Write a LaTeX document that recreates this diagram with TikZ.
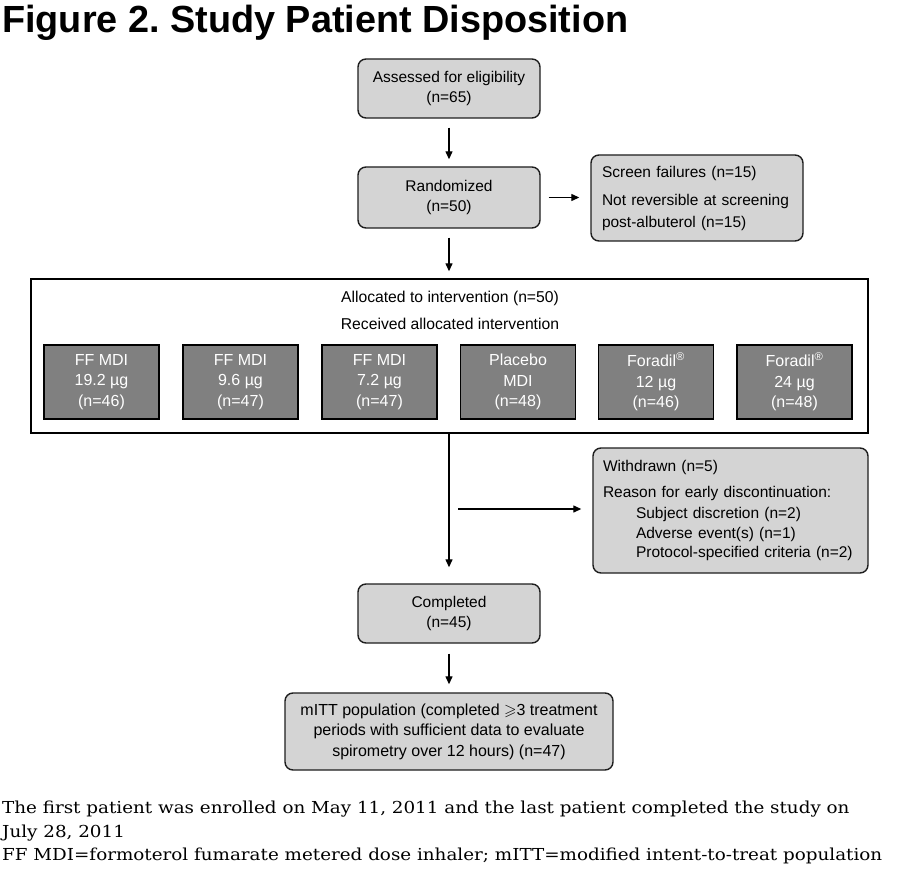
\documentclass[tikz,border=0pt]{standalone}
\usepackage{fontspec}
\usepackage{amssymb}
\usepackage{graphicx}
\setmainfont{Liberation Sans}
\newfontfamily\footfont{DejaVu Serif}
\usetikzlibrary{arrows.meta}
\definecolor{lightbox}{RGB}{212,212,212}
\definecolor{darkbox}{RGB}{128,128,128}
\definecolor{edgecol}{RGB}{30,30,30}
\newsavebox\footmeasure
\newsavebox\titlemeasure
\frenchspacing
\begin{document}%
\sbox\footmeasure{\footfont\fontsize{16.5}{18}\selectfont FF MDI=formoterol fumarate metered dose inhaler; mITT=modified intent-to-treat population}%
\pgfmathsetmacro\footx{880/\the\wd\footmeasure}%
\sbox\titlemeasure{\fontsize{10}{12}\selectfont\bfseries Figure 2. Study Patient Disposition}%
\pgfmathsetmacro\titlesize{10*626/\the\wd\titlemeasure}%
\begin{tikzpicture}[x=1pt,y=-1pt,
  lbox/.style={draw=edgecol, line width=1.4pt, fill=lightbox, rounded corners=8pt, inner sep=0pt, align=center, font=\fontsize{15.5}{20}\selectfont},
  dbox/.style={draw=black, line width=1.2pt, fill=darkbox, text=white, minimum width=115pt, minimum height=74pt, inner sep=0pt, align=center, font=\fontsize{16}{20.5}\selectfont},
  arr/.style={line width=1.3pt, -{Triangle[length=8pt,width=7pt]}},
  plain/.style={inner sep=0pt, font=\fontsize{15.7}{20}\selectfont},
  foot/.style={inner sep=0pt, anchor=base west, font=\footfont\fontsize{16.5}{18}\selectfont}
]
\fill[white] (0,0) rectangle (900,869);
\useasboundingbox (0,0) rectangle (900,869);

\node[anchor=base west, inner sep=0pt, font=\fontsize{\titlesize}{\titlesize}\selectfont\bfseries] (title) at (2,32.5) {Figure 2. Study Patient Disposition};

\node[lbox, minimum width=182pt, minimum height=59pt] (assess) at (449,88.5) {Assessed for eligibility\\(n=65)};
\node[lbox, minimum width=182pt, minimum height=61pt] (rand) at (449,197.5) {Randomized\\(n=50)};
\node[lbox, minimum width=212pt, minimum height=86pt, text width=190pt, inner xsep=11pt, align=left, font=\fontsize{15.5}{22}\selectfont] (screen) at (697,198) {Screen failures (n=15)\\[6pt]Not reversible at screening\\post-albuterol (n=15)};

\node[draw=black, line width=1.4pt, fill=white, minimum width=837pt, minimum height=154pt, inner sep=0pt] (alloc) at (449.5,356) {};
\node[plain, anchor=base] (alloctext) at (450,302) {Allocated to intervention (n=50)};
\node[plain, anchor=base] (recv) at (450,330) {Received allocated intervention};

\node[dbox] (d1) at (101.5,382) {FF MDI\\19.2 µg\\(n=46)};
\node[dbox] (d2) at (240.5,382) {FF MDI\\9.6 µg\\(n=47)};
\node[dbox] (d3) at (379.5,382) {FF MDI\\7.2 µg\\(n=47)};
\node[dbox] (d4) at (518,382) {Placebo\\MDI\\(n=48)};
\node[dbox] (d5) at (656,382) {Foradil\textsuperscript{®}\\12 µg\\(n=46)};
\node[dbox] (d6) at (794.5,382) {Foradil\textsuperscript{®}\\24 µg\\(n=48)};

\node[lbox, minimum width=182pt, minimum height=59pt] (comp) at (449,613.5) {Completed\\(n=45)};
\node[lbox, minimum width=275pt, minimum height=125pt, text width=255pt, inner xsep=10pt, align=left, font=\fontsize{15.5}{19.5}\selectfont] (withd) at (730.5,510.5) {Withdrawn (n=5)\\[6pt]Reason for early discontinuation:\\[2pt]\hspace*{33pt}Subject discretion (n=2)\\\hspace*{33pt}Adverse event(s) (n=1)\\\hspace*{33pt}Protocol-specified criteria (n=2)};
\node[lbox, minimum width=328pt, minimum height=77pt, font=\fontsize{16}{20.5}\selectfont] (mitt) at (449,731.5) {mITT population (completed $\geqslant$3 treatment\\periods with sufficient data to evaluate\\spirometry over 12 hours) (n=47)};

\draw[arr, shorten <=9pt, shorten >=7pt] (assess) -- (rand);
\draw[arr, shorten <=8pt, shorten >=11pt] (rand.east) -- (screen.west |- rand.east);
\draw[arr, shorten <=9pt, shorten >=7pt] (rand.south) -- (rand.south |- alloc.north);
\draw[arr, shorten >=16pt] (alloc.south -| comp.north) -- (comp.north);
\coordinate (wstart) at (458,509);
\draw[arr, shorten >=11pt] (wstart) -- (wstart -| withd.west);
\draw[arr, shorten <=10pt, shorten >=8pt] (comp.south) -- (mitt.north -| comp.south);

\node[foot] (f1) at (2,813) {\scalebox{\footx}[1]{The first patient was enrolled on May 11, 2011 and the last patient completed the study on}};
\node[foot] (f2) at (2,837) {\scalebox{\footx}[1]{July 28, 2011}};
\node[foot] (f3) at (2,860) {\scalebox{\footx}[1]{FF MDI=formoterol fumarate metered dose inhaler; mITT=modified intent-to-treat population}};
\end{tikzpicture}
\end{document}
